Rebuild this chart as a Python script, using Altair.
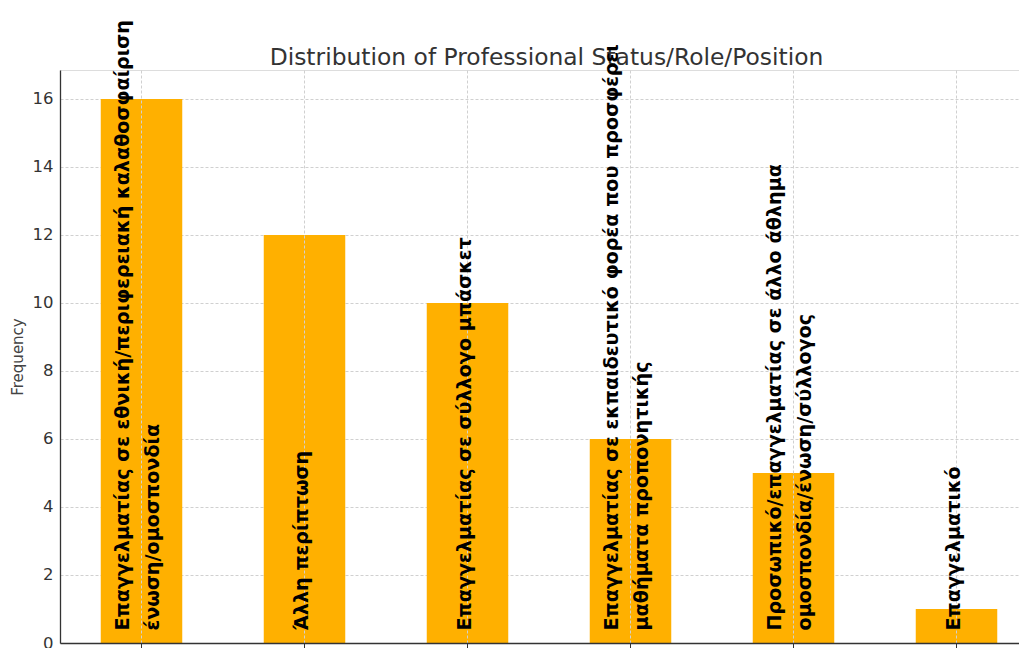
import altair as alt
import pandas as pd

# Categories ("|" marks a line break in the axis label)
roles = [
    "Επαγγελματίας σε εθνική/περιφερειακή καλαθοσφαίριση|ένωση/ομοσπονδία",
    "Άλλη περίπτωση",
    "Επαγγελματίας σε σύλλογο μπάσκετ",
    "Επαγγελματίας σε εκπαιδευτικό φορέα που προσφέρει|μαθήματα προπονητικής",
    "Προσωπικό/επαγγελματίας σε άλλο άθλημα|ομοσπονδία/ένωση/σύλλογος",
    "Επαγγελματικό",
]
counts = [16, 12, 10, 6, 5, 1]
y_ticks = [0, 2, 4, 6, 8, 10, 12, 14, 16]

df = pd.DataFrame({"role": roles, "count": counts})

chart = alt.Chart(df).mark_bar(color="#FFB000").encode(
    x=alt.X(
        "role:N",
        sort=roles,
        scale=alt.Scale(range=[0, 978], paddingInner=0.5, paddingOuter=0.25),
        axis=alt.Axis(
            title=None,
            labelAngle=-90,
            labelAlign="left",
            labelBaseline="middle",
            labelPadding=-18,
            labelOffset=alt.condition(
                "indexof(datum.value, '|') >= 0", alt.value(-19), alt.value(-3)
            ),
            labelExpr="split(datum.label, '|')",
            labelLineHeight=30,
            labelFont="DejaVu Sans",
            labelFontWeight="bold",
            labelFontSize=19.2,
            labelColor="#000000",
            labelLimit=2000,
            labelOverlap=False,
            labelFlush=False,
            tickSize=5,
            tickColor="#333333",
            domainColor="#333333",
            domainWidth=1.3,
            grid=True,
            gridDash=[3, 2],
            gridColor="#d0d0d0",
            zindex=1,
        ),
    ),
    y=alt.Y(
        "count:Q",
        scale=alt.Scale(domain=[0, 16.85], nice=False, zero=True),
        axis=alt.Axis(
            title="Frequency",
            values=y_ticks,
            format="d",
            labelFont="DejaVu Sans",
            labelFontSize=16.5,
            labelColor="#333333",
            labelPadding=7,
            tickSize=0,
            domainColor="#333333",
            domainWidth=1.3,
            grid=True,
            gridDash=[3, 2],
            gridColor="#d0d0d0",
            titleFont="DejaVu Sans",
            titleFontSize=15,
            titleFontWeight="normal",
            titleColor="#444444",
            titlePadding=7,
        ),
    ),
).properties(
    width=959,
    height=573,
    title=alt.Title(
        "Distribution of Professional Status/Role/Position",
        font="DejaVu Sans",
        fontSize=23.4,
        fontWeight="normal",
        color="#333333",
        anchor="middle",
        baseline="alphabetic",
        dx=7,
        dy=75,
        offset=6,
    ),
    autosize=alt.AutoSizeParams(type="none"),
    padding={"left": 52, "top": 62, "right": 0, "bottom": 5},
).configure_view(stroke=None).configure(background="white")

chart.save("out.html", embed_options={"renderer": "svg", "actions": False})
